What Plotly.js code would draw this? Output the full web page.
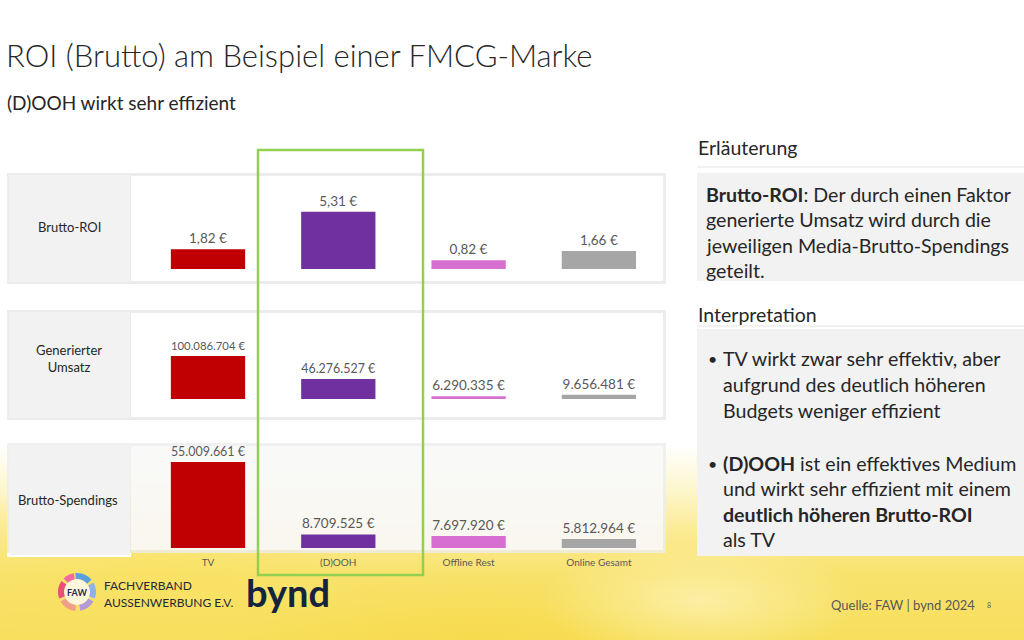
<!DOCTYPE html>
<html>
<head>
<meta charset="utf-8">
<script src="https://cdn.plot.ly/plotly-3.0.1.min.js"></script>
<style>
html,body{margin:0;padding:0;}
body{
  width:1024px;height:640px;overflow:hidden;
  background:
    radial-gradient(ellipse 220px 90px at 150px 560px, rgba(250,226,90,0.45), rgba(250,226,90,0) 100%),
    radial-gradient(ellipse 160px 60px at 700px 600px, rgba(255,250,215,0.55), rgba(255,250,215,0) 100%),
    radial-gradient(ellipse 260px 70px at 480px 640px, rgba(246,214,60,0.45), rgba(246,214,60,0) 100%),
    linear-gradient(to bottom, #ffffff 0px, #ffffff 445px, #fdf6cc 490px, #fbeb94 530px, #f8e26c 575px, #f7df5c 640px);
}
#chart{width:1024px;height:640px;}
</style>
</head>
<body>
<div id="chart"></div>
<script>
// ---- data ----
const categories = ['TV', '(D)OOH', 'Offline Rest', 'Online Gesamt'];
const bruttoROI = [1.82, 5.31, 0.82, 1.66];
const umsatz = [100086704, 46276527, 6290335, 9656481];
const spendings = [55009661, 8709525, 7697920, 5812964];
const barColors = ['#c00000', '#7030a0', '#d76fd0', '#a6a6a6'];
const rowLabels = ['Brutto-ROI', 'Generierter<br>Umsatz', 'Brutto-Spendings'];
const explanationLines = [
  '<b>Brutto-ROI</b>: Der durch einen Faktor',
  'generierte Umsatz wird durch die',
  'jeweiligen Media-Brutto-Spendings',
  'geteilt.'
];
const bullet1Lines = ['TV wirkt zwar sehr effektiv, aber', 'aufgrund des deutlich höheren', 'Budgets weniger effizient'];
const bullet2Lines = ['<b>(D)OOH</b> ist ein effektives Medium', 'und wirkt sehr effizient mit einem', '<b>deutlich höheren Brutto-ROI</b>', 'als TV'];

// ---- helpers (pixel -> paper) ----
const W = 1024, H = 640;
const X = px => px / W;
const Y = py => 1 - py / H;
const FONT = 'Lato, "Open Sans", sans-serif';

// category axis geometry
const catStart = 208, catStep = 130.3, plotL = 131, plotR = 663;
const xr = [(plotL - catStart) / catStep, (plotR - catStart) / catStep];

function bar(y, xa, ya, tmpl) {
  return {
    type: 'bar', x: categories, y: y, xaxis: xa, yaxis: ya,
    marker: {color: barColors, line: {width: 0}}, width: 0.57,
    texttemplate: tmpl, textposition: 'outside', cliponaxis: false,
    textfont: {family: FONT, size: 13.5, color: '#595959'},
    hoverinfo: 'skip', showlegend: false
  };
}
const data = [
  bar(bruttoROI, 'x', 'y', '%{y:.2f} €'),
  bar(umsatz, 'x2', 'y2', '%{y:,.0f} €'),
  bar(spendings, 'x3', 'y3', '%{y:,.0f} €')
];

function xax(anchor, showLabels) {
  return {
    domain: [X(plotL), X(plotR)], range: xr, anchor: anchor, type: 'category',
    showgrid: false, zeroline: false, showline: false, ticks: '',
    showticklabels: showLabels, ticklabelstandoff: 7,
    tickfont: {family: FONT, size: 10, color: '#595959'}, fixedrange: true
  };
}
function yax(top, base, pxPerUnit, anchor) {
  return {
    domain: [Y(base), Y(top)], range: [0, (base - top) / pxPerUnit], anchor: anchor,
    visible: false, fixedrange: true
  };
}

// ---- shapes ----
const shapes = [];
function rect(x0, y0, x1, y1, fill, line, layer) {
  shapes.push({type: 'rect', xref: 'paper', yref: 'paper', x0: X(x0), x1: X(x1), y0: Y(y1), y1: Y(y0),
    fillcolor: fill, line: line || {width: 0}, layer: layer || 'below'});
}
// row panels
rect(7, 173, 666, 284, '#ececec');
rect(131, 176, 663, 281, '#ffffff');
rect(9, 175, 130, 282, '#f2f2f2');
rect(7, 310, 666, 420, '#ececec');
rect(131, 313, 663, 417, '#ffffff');
rect(9, 312, 130, 418, '#f2f2f2');
rect(7, 443, 666, 553, 'rgba(236,236,236,0.8)');
rect(131, 446, 663, 550, 'rgba(255,255,255,0.6)');
rect(7, 553, 131, 557, '#ffffff');
rect(9, 445, 130, 555, '#f2f2f2');
// right panels
shapes.push({type: 'line', xref: 'paper', yref: 'paper', x0: X(697), x1: X(1024), y0: Y(167), y1: Y(167), line: {color: '#e3e3e3', width: 1}, layer: 'below'});
rect(697, 173, 1024, 281, '#f2f2f2');
shapes.push({type: 'line', xref: 'paper', yref: 'paper', x0: X(697), x1: X(1024), y0: Y(326), y1: Y(326), line: {color: '#e3e3e3', width: 1}, layer: 'below'});
rect(697, 329, 1024, 556, '#f2f2f2');
// green highlight
shapes.push({type: 'rect', xref: 'paper', yref: 'paper', x0: X(258), x1: X(423), y0: Y(575), y1: Y(150),
  line: {color: '#92d050', width: 2.5}, fillcolor: 'rgba(0,0,0,0)', layer: 'above'});

// FAW logo arcs
function arcPath(cx, cy, r, a0, a1) {
  const rad = d => d * Math.PI / 180;
  const pt = a => [cx + r * Math.cos(rad(a)), cy + r * Math.sin(rad(a))];
  const f = p => X(p[0]).toFixed(5) + ',' + Y(p[1]).toFixed(5);
  let s = 'M ' + f(pt(a0));
  const n = Math.ceil(Math.abs(a1 - a0) / 90);
  const step = (a1 - a0) / n;
  for (let i = 0; i < n; i++) {
    const a = a0 + i * step, b = a + step;
    const k = 4 / 3 * Math.tan(rad(step) / 4) * r;
    const p0 = pt(a), p3 = pt(b);
    const c1 = [p0[0] - k * Math.sin(rad(a)), p0[1] + k * Math.cos(rad(a))];
    const c2 = [p3[0] + k * Math.sin(rad(b)), p3[1] - k * Math.cos(rad(b))];
    s += ' C ' + f(c1) + ' ' + f(c2) + ' ' + f(p3);
  }
  return s;
}
const logoArcs = [
  [-95, -40, '#5aa0e0'], [-30, 20, '#8fb0e8'], [30, 80, '#b59ad8'], [95, 150, '#f0a08a'], [160, 215, '#e8507a'], [225, 260, '#f06aa0']
];
shapes.push({type: 'circle', xref: 'paper', yref: 'paper', x0: X(64), x1: X(90), y0: Y(605), y1: Y(579),
  fillcolor: '#fff7dc', line: {width: 0}, layer: 'above'});
logoArcs.forEach(a => shapes.push({type: 'path', xref: 'paper', yref: 'paper', path: arcPath(77, 592, 16, a[0], a[1]),
  line: {color: a[2], width: 6}, layer: 'above'}));
// bynd "b" stem accent
shapes.push({type: 'line', xref: 'paper', yref: 'paper', x0: X(251.5), x1: X(251.5), y0: Y(606), y1: Y(580),
  line: {color: '#4aa3d8', width: 3, dash: 'dot'}, layer: 'above'});

// ---- annotations ----
const ann = [];
function txt(text, x, y, size, opts) {
  ann.push(Object.assign({text: text, xref: 'paper', yref: 'paper', x: X(x), y: Y(y), showarrow: false,
    xanchor: 'left', yanchor: 'middle', font: {family: FONT, size: size, color: '#262626'}}, opts || {}));
}
txt('(D)OOH wirkt sehr effizient', 5, 103, 19);
txt(rowLabels[0], 69, 227, 13, {xanchor: 'center'});
txt(rowLabels[1], 69, 358, 13, {xanchor: 'center'});
txt(rowLabels[2], 68, 500, 13, {xanchor: 'center'});
txt('Erläuterung', 696, 147, 19.5);
explanationLines.forEach((l, i) => txt(l, 704, 194 + i * 25.5, 19.6));
txt('Interpretation', 696, 314, 19.5);
txt('•', 706, 358, 16);
bullet1Lines.forEach((l, i) => txt(l, 721, 358 + i * 26, 19.6));
txt('•', 706, 463, 16);
bullet2Lines.forEach((l, i) => txt(l, 721, 463 + i * 25.5, 19.6));
txt('Quelle: FAW | bynd 2024', 829, 605, 13, {font: {family: FONT, size: 13, color: '#595959'}});
txt('8', 985, 605, 7, {font: {family: FONT, size: 7, color: '#595959'}});
txt('<b>FAW</b>', 77, 592, 9, {xanchor: 'center', font: {family: FONT, size: 9, color: '#1f2d4e'}});
txt('FACHVERBAND', 102, 585, 12, {font: {family: FONT, size: 12, color: '#24283a'}});
txt('AUSSENWERBUNG E.V.', 102, 602, 12, {font: {family: FONT, size: 12, color: '#24283a'}});
txt('<b>bynd</b>', 244, 592, 38, {font: {family: FONT, size: 38, color: '#14243d'}});

const layout = {
  width: W, height: H, margin: {l: 0, r: 0, t: 0, b: 0},
  paper_bgcolor: 'rgba(0,0,0,0)', plot_bgcolor: 'rgba(0,0,0,0)',
  separators: ',.',
  title: {text: 'ROI (Brutto) am Beispiel einer FMCG-Marke', x: X(6), xanchor: 'left', xref: 'paper',
    y: Y(56), yanchor: 'middle', yref: 'paper', font: {family: FONT, size: 31, weight: 300, color: '#262626'}},
  xaxis: xax('y', false), xaxis2: xax('y2', false), xaxis3: xax('y3', true),
  yaxis: yax(178, 269, 10.8, 'x'),
  yaxis2: yax(313, 399, 0.43e-6, 'x2'),
  yaxis3: yax(446, 548, 1.563e-6, 'x3'),
  shapes: shapes, annotations: ann
};
Plotly.newPlot('chart', data, layout, {displayModeBar: false, staticPlot: true});
</script>
</body>
</html>
